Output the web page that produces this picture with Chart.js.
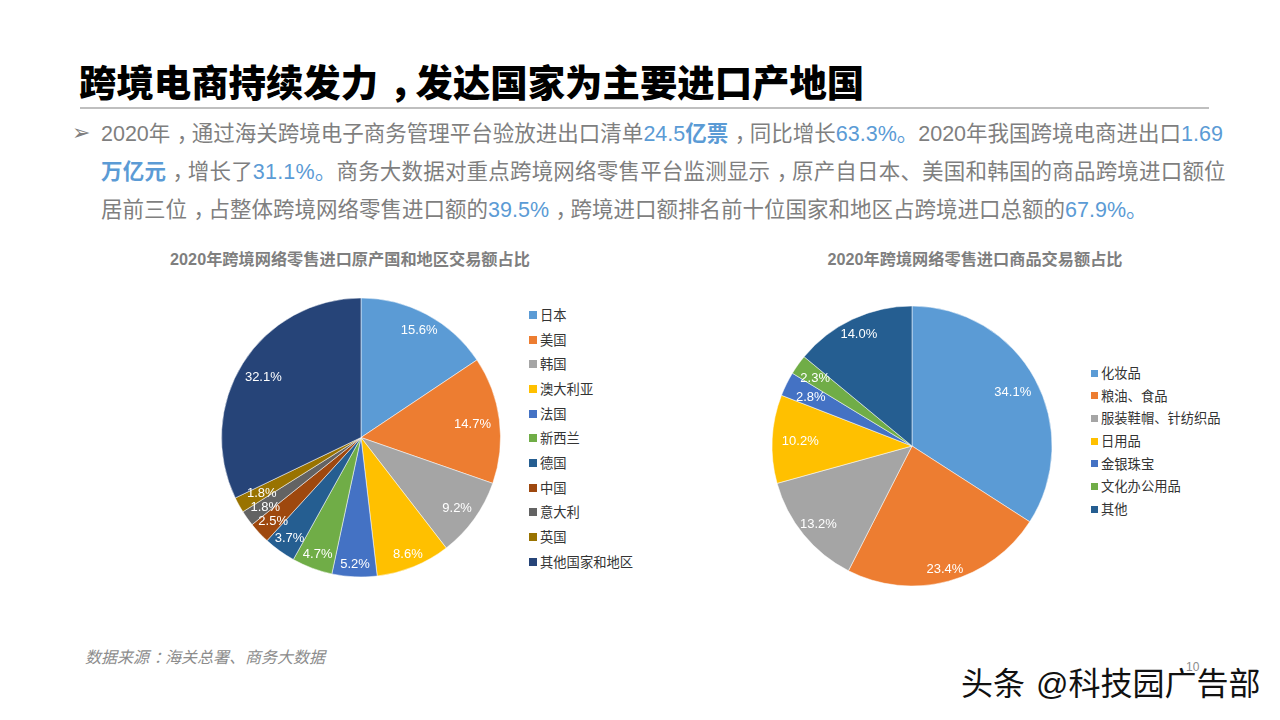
<!DOCTYPE html>
<html lang="zh">
<head>
<meta charset="utf-8">
<title>跨境电商持续发力，发达国家为主要进口产地国</title>
<script src="https://cdn.jsdelivr.net/npm/chart.js@4/dist/chart.umd.min.js"></script>
<style>
    html, body { margin: 0; padding: 0; background: #fff; }
    #page {
        position: relative; width: 1280px; height: 720px; overflow: hidden;
        font-family: "Liberation Sans", "Noto Sans CJK SC", sans-serif;
    }
    #page > * { position: absolute; white-space: nowrap; }
    /* the original sets its full-width comma and colon in the middle of the cell */
    .p { display: inline-block; transform: translateX(0.3em); }
    .headline { left: 79px; top: 58px; font-size: 37.4px; line-height: 52px; font-weight: 900; color: #000; }
    .rule { left: 80px; top: 107px; width: 1129px; height: 2px; background: #bfbfbf; }
    .bullet { left: 72px; top: 119px; font: 22px/28px "DejaVu Sans"; color: #7f7f7f; }
    .line { left: 101px; font-size: 21.5px; line-height: 30px; color: #7f7f7f; }
    .line b { color: #5b9bd5; font-weight: 700; }
    .line i { color: #5b9bd5; font-style: normal; }
    .subtitle { top: 248px; font-size: 16.2px; line-height: 22px; font-weight: 700; color: #7f7f7f; transform: translateX(-50%); }
    .legend-row { font-size: 13.3px; line-height: 18px; color: #333; }
    .swatch { position: absolute; display: block; }
    .source { left: 85px; top: 647px; font-size: 16px; line-height: 22px; font-style: italic; color: #8c8c8c; }
    .pageno { left: 1186px; top: 660px; font-size: 12px; line-height: 14px; color: #8c8c8c; }
    .watermark { left: 961px; top: 662px; font-size: 32px; line-height: 44px; color: #111; word-spacing: 2px; }
</style>
</head>
<body>
<div id="page">
    <div class="headline">跨境电商持续发力<span class="p">，</span>发达国家为主要进口产地国</div>
    <div class="rule"></div>
    <div class="bullet">➢</div>
    <div class="line" style="top:119px">2020年<span class="p">，</span>通过海关跨境电子商务管理平台验放进出口清单<i>24.5</i><b>亿票</b><span class="p">，</span>同比增长<i>63.3%。</i>2020年我国跨境电商进出口<i>1.69</i></div>
    <div class="line" style="top:157px;letter-spacing:0.19px"><b>万亿元</b><span class="p">，</span>增长了<i>31.1%。</i>商务大数据对重点跨境网络零售平台监测显示<span class="p">，</span>原产自日本、美国和韩国的商品跨境进口额位</div>
    <div class="line" style="top:195px">居前三位<span class="p">，</span>占整体跨境网络零售进口额的<i>39.5%</i><span class="p">，</span>跨境进口额排名前十位国家和地区占跨境进口总额的<i>67.9%。</i></div>

    <div class="subtitle" style="left:350px">2020年跨境网络零售进口原产国和地区交易额占比</div>
    <div class="subtitle" style="left:975px">2020年跨境网络零售进口商品交易额占比</div>

    <canvas id="originChart" width="320" height="319" style="left:201px;top:278px"></canvas>
    <canvas id="goodsChart" width="320" height="320" style="left:752px;top:286px"></canvas>

    <div class="source">数据来源<span class="p">：</span>海关总署、商务大数据</div>
    <div class="pageno">10</div>
    <div class="watermark">头条 @科技园广告部</div>
</div>

<script>
// data
const originLabels = ['日本', '美国', '韩国', '澳大利亚', '法国', '新西兰', '德国', '中国', '意大利', '英国', '其他国家和地区'];
const originValues = [15.6, 14.7, 9.2, 8.6, 5.2, 4.7, 3.7, 2.5, 1.8, 1.8, 32.1];
const goodsLabels = ['化妆品', '粮油、食品', '服装鞋帽、针纺织品', '日用品', '金银珠宝', '文化办公用品', '其他'];
const goodsValues = [34.1, 23.4, 13.2, 10.2, 2.8, 2.3, 14.0];

const sliceColors = ['#5b9bd5', '#ed7d31', '#a5a5a5', '#ffc000', '#4472c4', '#70ad47', '#255e91', '#9e480e', '#636363', '#997300', '#264478'];

// how far out each percent label sits, as a share of the pie radius
const originLabelRadius = [0.885, 0.806, 0.849, 0.892, 0.899, 0.885, 0.878, 0.863, 0.842, 0.813, 0.827];
const goodsLabelRadius = [0.82, 0.90, 0.863, 0.799, 0.806, 0.849, 0.892];

// draws the value of each slice on top of it
const sliceLabels = {
    id: 'sliceLabels',
    afterDatasetsDraw(chart, args, opts) {
        const { ctx } = chart;
        const values = chart.data.datasets[0].data;
        ctx.save();
        ctx.font = '13px "Liberation Sans"';
        ctx.fillStyle = '#fff';
        ctx.textAlign = 'center';
        ctx.textBaseline = 'middle';
        chart.getDatasetMeta(0).data.forEach((arc, i) => {
            const mid = (arc.startAngle + arc.endAngle) / 2;
            const r = arc.outerRadius * opts.radius[i];
            // +1.5: the text sits a little under the computed spot in the original
            ctx.fillText(values[i].toFixed(1) + '%', arc.x + Math.cos(mid) * r, arc.y + Math.sin(mid) * r + 1.5);
        });
        ctx.restore();
    }
};

// legend sits in the page so the swatch/text gap can follow the original
function addLegend(chart, x, firstY, rowGap, box, textGap) {
    const page = document.getElementById('page');
    chart.options.plugins.legend.labels.generateLabels(chart).forEach((item, i) => {
        const row = document.createElement('div');
        row.className = 'legend-row';
        row.style.left = (x + box + textGap) + 'px';
        row.style.top = (firstY + i * rowGap - 8) + 'px';
        row.textContent = item.text;
        page.appendChild(row);

        const swatch = document.createElement('div');
        swatch.className = 'swatch';
        swatch.style.cssText = `left:${x}px;top:${firstY + i * rowGap - box / 2}px;width:${box}px;height:${box}px;background:${item.fillStyle}`;
        page.appendChild(swatch);
    });
}

function makePie(id, labels, values, labelRadius, pieRadius) {
    return new Chart(document.getElementById(id).getContext('2d'), {
        type: 'pie',
        data: {
            labels: labels,
            datasets: [{
                data: values,
                backgroundColor: sliceColors.slice(0, values.length),
                borderColor: '#ffffff',
                borderWidth: 0.5,
                radius: pieRadius
            }]
        },
        options: {
            responsive: false,
            animation: false,
            events: [],
            layout: { padding: 0 },
            plugins: {
                legend: { display: false },
                tooltip: { enabled: false },
                sliceLabels: { radius: labelRadius }
            }
        },
        plugins: [sliceLabels]
    });
}

const originChart = makePie('originChart', originLabels, originValues, originLabelRadius, 139.5);
const goodsChart = makePie('goodsChart', goodsLabels, goodsValues, goodsLabelRadius, 140);

addLegend(originChart, 529, 315, 24.67, 8, 3);
addLegend(goodsChart, 1091, 373, 22.67, 7, 3);
</script>
</body>
</html>
